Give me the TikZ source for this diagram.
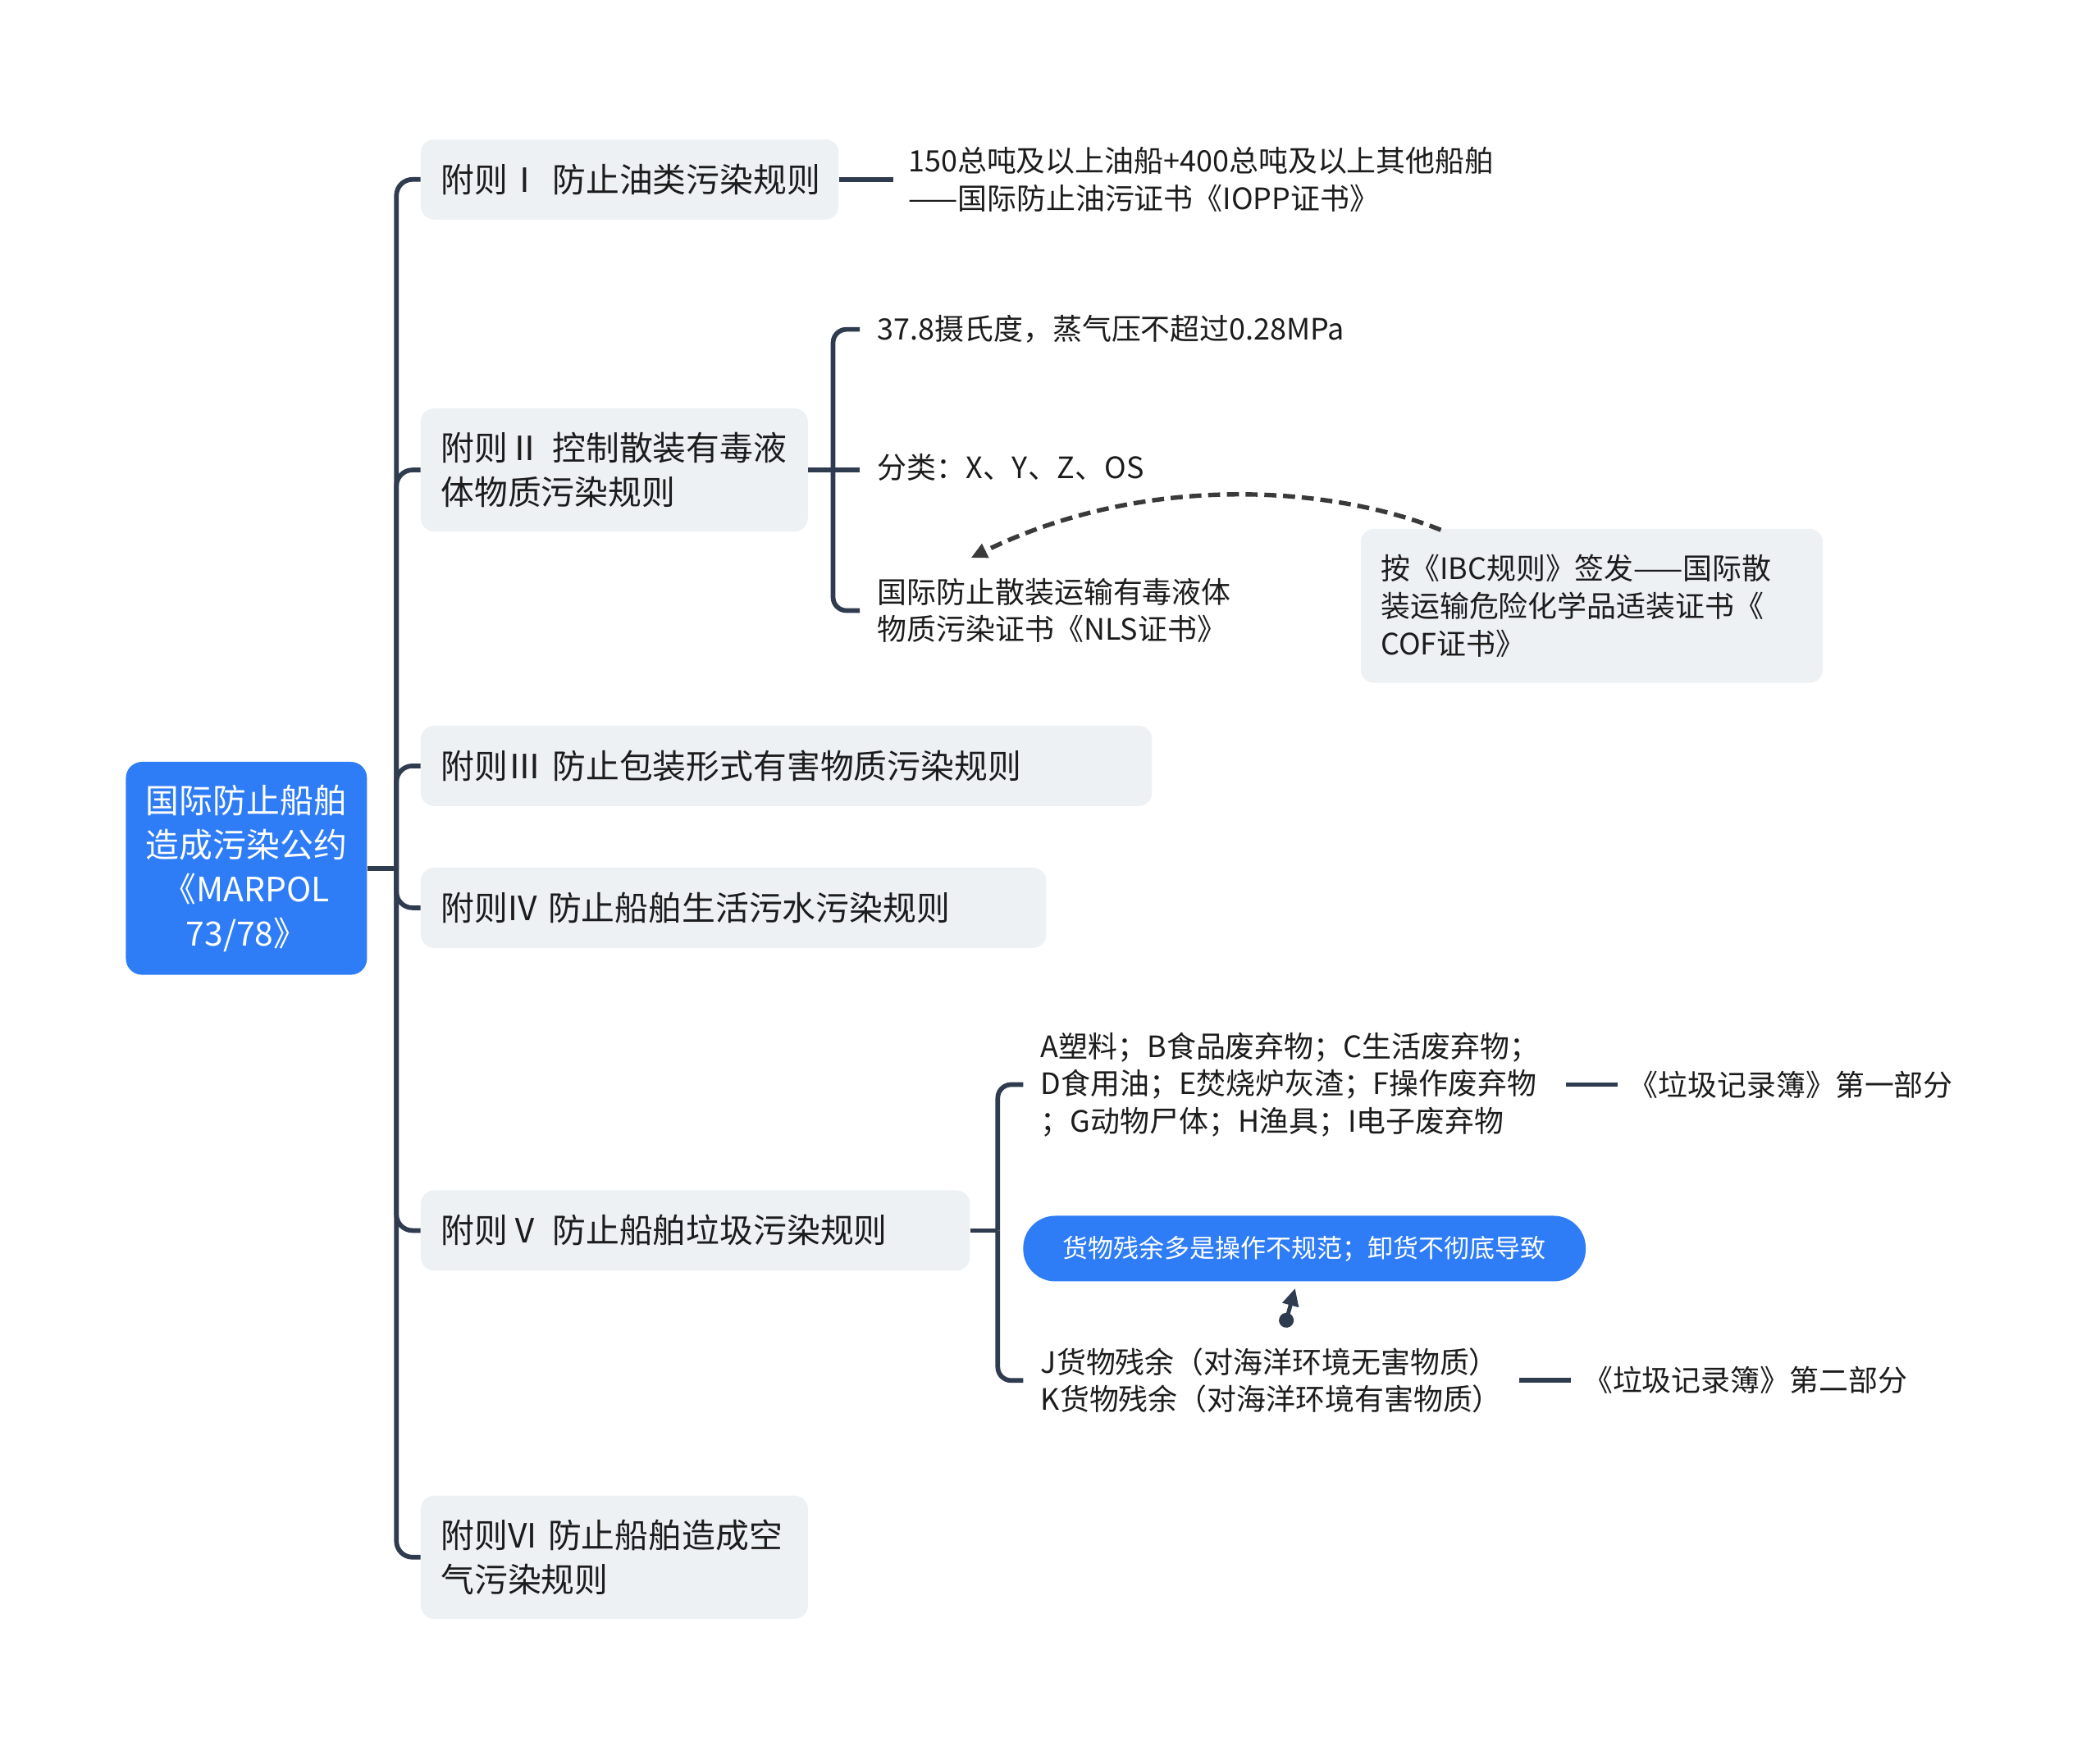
\documentclass[tikz,border=0pt]{standalone}
\usepackage{fontspec}
\setmainfont{Noto Sans CJK SC}
\usetikzlibrary{arrows.meta,calc}
\definecolor{linec}{HTML}{2F3B4E}
\definecolor{boxc}{HTML}{EEF1F4}
\definecolor{rootc}{HTML}{2F7DF6}
\definecolor{txtc}{HTML}{1C1C1C}
\definecolor{dashc}{HTML}{3A3A3A}
\begin{document}
\begin{tikzpicture}[x=1pt,y=-1pt,
  rootbox/.style={fill=rootc, rounded corners=12pt, text=white, align=center, inner sep=0pt,
    font=\fontsize{25pt}{33pt}\selectfont},
  subbox/.style={fill=boxc, rounded corners=10pt, text=txtc, align=left, inner xsep=15pt,
    inner ysep=0pt, anchor=west, font=\fontsize{25pt}{33pt}\selectfont},
  notebox/.style={fill=boxc, rounded corners=10pt, text=txtc, align=left, inner xsep=15pt,
    inner ysep=0pt, font=\fontsize{22pt}{28pt}\selectfont},
  pillbox/.style={fill=rootc, rounded corners=24pt, text=white, align=center, inner sep=0pt,
    font=\fontsize{19pt}{24pt}\selectfont},
  leaf/.style={text=txtc, align=left, inner sep=0pt, anchor=west,
    font=\fontsize{22pt}{28pt}\selectfont},
  conn/.style={draw=linec, line width=3.5pt},
  dasharrow/.style={draw=dashc, line width=3.3pt, dash pattern=on 9pt off 5pt,
    -{Triangle[length=12pt,width=11pt]}},
  relarrow/.style={draw=linec, fill=linec, line width=3pt,
    {Circle[length=11pt]}-{Triangle[length=13pt,width=12pt]}}
]
\useasboundingbox[fill=white] (0,0) rectangle (1568,1304);

% root
\node[rootbox, minimum width=180pt, minimum height=159pt] (root) at (184,648.5)
  {国际防止船舶\\造成污染公约\\《MARPOL\\73/78》};

% children
\node[subbox, text width=282pt, minimum height=60pt] (c1) at (314,134) {附则Ⅰ~防止油类污染规则};
\node[subbox, text width=259pt, minimum height=92pt] (c2) at (314,351) {附则Ⅱ 控制散装有毒液\\体物质污染规则};
\node[subbox, text width=516pt, minimum height=60pt] (c3) at (314,572) {附则Ⅲ~防止包装形式有害物质污染规则};
\node[subbox, text width=437pt, minimum height=60pt] (c4) at (314,678) {附则IV~防止船舶生活污水污染规则};
\node[subbox, text width=380pt, minimum height=60pt] (c5) at (314,919) {附则Ⅴ~防止船舶垃圾污染规则};
\node[subbox, text width=259pt, minimum height=92pt] (c6) at (314,1163) {附则VI 防止船舶造成空\\气污染规则};

% trunk
\coordinate (t0) at (296,648.5);
\draw[conn] (root.east) -- (t0);
\foreach \c in {c1,c2,c3,c4,c5,c6}{
  \draw[conn, rounded corners=12pt] (t0) |- (\c.west);
}

% annex I leaf
\node[leaf] (l1) at (678,134) {150总吨及以上油船+400总吨及以上其他船舶\\——国际防止油污证书《IOPP证书》};
\draw[conn] (c1.east) -- ($(l1.west)+(-11,0)$);

% annex II leaves
\node[leaf] (l2a) at (655,246) {37.8摄氏度，蒸气压不超过0.28MPa};
\node[leaf] (l2b) at (655,349) {分类：X、Y、Z、OS};
\node[leaf] (l2c) at (655,456) {国际防止散装运输有毒液体\\物质污染证书《NLS证书》};
\coordinate (b2) at (622,351);
\draw[conn] (c2.east) -- (b2);
\draw[conn, rounded corners=10pt] (b2) |- ($(l2a.west)+(-13,0)$);
\draw[conn] (b2) -- ($(b2 -| l2b.west)+(-13,0)$);
\draw[conn, rounded corners=10pt] (b2) |- ($(l2c.west)+(-13,0)$);

% IBC note
\node[notebox, text width=315pt, minimum height=115pt] (ibc) at (1188.5,452.5)
  {按《IBC规则》签发——国际散\\装运输危险化学品适装证书《\\COF证书》};
\draw[dasharrow] ($(ibc.north west)+(60,1)$)
  .. controls ($(ibc.north west)+(-16,-30)$) and ($(l2c.north west)+(205,-81)$)
  .. ($(l2c.north west)+(70,-15)$);

% annex V leaves
\node[leaf] (l5a) at (777,810) {A塑料；B食品废弃物；C生活废弃物；\\D食用油；E焚烧炉灰渣；F操作废弃物\\；G动物尸体；H渔具；I电子废弃物};
\node[leaf] (l5b) at (777,1031) {J货物残余（对海洋环境无害物质）\\K货物残余（对海洋环境有害物质）};
\coordinate (b5) at (745,919);
\draw[conn] (c5.east) -- (b5);
\draw[conn, rounded corners=10pt] (b5) |- ($(l5a.west)+(-13,0)$);
\draw[conn, rounded corners=10pt] (b5) |- ($(l5b.west)+(-13,0)$);

\node[leaf] (r1) at (1216,810) {《垃圾记录簿》第一部分};
\node[leaf] (r2) at (1182,1031) {《垃圾记录簿》第二部分};
\draw[conn] ($(l5a.east)+(20,0)$) -- ($(r1.west)+(-8,0)$);
\draw[conn] ($(l5b.east)+(13,0)$) -- ($(r2.west)+(-9,0)$);

\node[pillbox, minimum width=420pt, minimum height=49pt] (pill) at (974,932.5)
  {货物残余多是操作不规范；卸货不彻底导致};
\draw[relarrow] ($(l5b.north west)+(182,-15)$) -- ($(pill.south)+(-7,5)$);
\end{tikzpicture}
\end{document}
